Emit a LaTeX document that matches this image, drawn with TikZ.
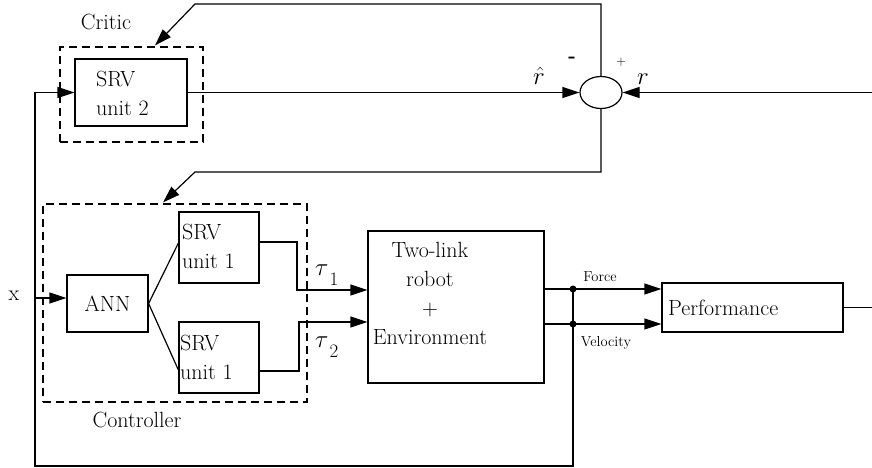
\documentclass[tikz,border=0pt]{standalone}
\usepackage{fontspec}
\usetikzlibrary{arrows.meta,shapes.geometric}
\begin{document}
\begin{tikzpicture}[x=1pt,y=-1pt,
  every node/.style={font=\fontsize{22}{29}\selectfont, inner sep=0pt},
  blk/.style={draw, line width=1.2pt, rectangle},
  grp/.style={draw, line width=1.1pt, dash pattern=on 8pt off 5pt},
  wire/.style={line width=1.2pt},
  sig/.style={wire, -{Triangle[length=17pt,width=11pt]}},
  small/.style={font=\fontsize{14.5}{14.5}\selectfont},
  jdot/.style={circle, fill, minimum size=7pt}
]
\useasboundingbox (0,0) rectangle (872,468);

% ---- critic branch ----
\node[grp, minimum width=143pt, minimum height=95pt] (critic) at (131.5,94.5) {};
\node (critlbl) at (106,22) {Critic};
\node[blk, minimum width=112pt, minimum height=67pt] (srv2) at (131,92.5) {};
\node[anchor=west, align=left] (srv2txt) at (96,93) {SRV\\unit 2};
\node[draw, ellipse, line width=1.2pt, minimum width=42pt, minimum height=32pt] (sum) at (601,92.5) {};

\node[anchor=base] (rhat) at (539,85) {\fontsize{24}{24}\selectfont $\hat{r}$};
\node[anchor=base] (rref) at (643,85) {\fontsize{24}{24}\selectfont $r$};
\node (minus) at (572,60) {\fontsize{20}{20}\selectfont\bfseries -};
\node (plus) at (621,62) {\fontsize{13}{13}\selectfont +};

% ---- controller ----
\node[grp, minimum width=264pt, minimum height=198pt] (ctrl) at (175,303) {};
\node (ctrllbl) at (137,420) {Controller};
\node[blk, minimum width=81pt, minimum height=57pt] (ann) at (107.5,303.5) {ANN};
\node[blk, minimum width=80pt, minimum height=71pt] (srva) at (219,247.5) {};
\node[anchor=west, align=left] (srvatxt) at (182,246) {SRV\\unit 1};
\node[blk, minimum width=80pt, minimum height=71pt] (srvb) at (219,357.5) {};
\node[anchor=west, align=left] (srvbtxt) at (180,357) {SRV\\unit 1};

% ---- plant and performance ----
\node[blk, minimum width=176pt, minimum height=152pt] (robot) at (456,307) {};
\node[align=center] (robottxt) at (430,293) {Two-link\\robot\\+\\Environment};
\node[blk, minimum width=181pt, minimum height=49pt] (perf) at (752.5,307.5) {};
\node[anchor=west] (perftxt) at (668,308) {Performance};

\node (xlbl) at (14,296) {x};
\node[anchor=base west] (tau1) at (315,275)
  {\fontsize{30}{30}\selectfont $\tau$\kern1pt\raisebox{-10pt}{\fontsize{19}{19}\selectfont 1}};
\node[anchor=base west] (tau2) at (315,347)
  {\fontsize{30}{30}\selectfont $\tau$\kern1pt\raisebox{-10pt}{\fontsize{19}{19}\selectfont 2}};
\node[small] (forcelbl) at (600,277) {Force};
\node[small] (vellbl) at (606,343) {Velocity};

% ---- junction points and corners ----
\coordinate (fpt) at (573,289);
\coordinate (vpt) at (573,324);
\node[jdot] (fdot) at (fpt) {};
\node[jdot] (vdot) at (vpt) {};
\coordinate (br) at (573,466);
\coordinate (bl) at (35,466);
\coordinate (tl) at (35,92.5);
\coordinate (xin) at (35,298);
\coordinate (rin) at (872,92.5);
\coordinate (pout) at (872,307.5);
\coordinate (tcorner) at (195,4);
\coordinate (bcorner) at (195,172);
\coordinate (ctip) at (155,0);
\coordinate (ktip) at (163,0);
\coordinate (t1k) at (297,290);
\coordinate (t2k) at (299,322);

% ---- connectors ----
\draw[sig] (srv2.east) -- (sum.west);
\draw[sig] (rin) -- (sum.east);
\draw[sig] (sum.north) |- (tcorner) -- ([yshift=1pt]critic.north -| ctip);
\draw[sig] (sum.south) |- (bcorner) -- ([yshift=1pt]ctrl.north -| ktip);

\draw[wire] (fdot.center) -- (br) -- (bl) -- (tl);
\draw[sig] (tl) -- (srv2.west);
\draw[sig] (xin) -- (xin -| ann.west);

\draw[wire] (ann.east) -- ([yshift=4.5pt]srva.west);
\draw[wire] (ann.east) -- ([yshift=-12.5pt]srvb.west);

\draw[sig] ([yshift=5.5pt]srva.east) -| (t1k) -- (t1k -| robot.west);
\draw[sig] ([yshift=-13.5pt]srvb.east) -| (t2k) -- (t2k -| robot.west);

\draw[sig] (fpt -| robot.east) -- (fpt -| perf.west);
\draw[sig] (vpt -| robot.east) -- (vpt -| perf.west);
\draw[wire] (perf.east) -- (pout);
\end{tikzpicture}
\end{document}
